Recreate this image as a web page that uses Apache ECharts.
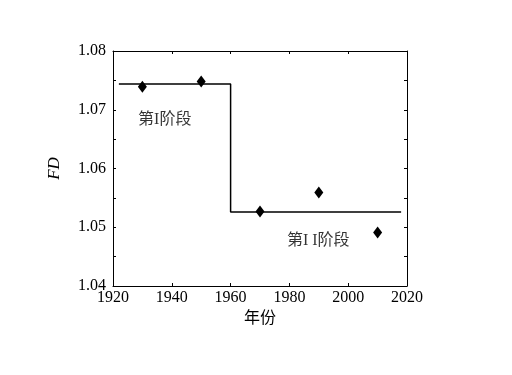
<!DOCTYPE html>
<html><head><meta charset="utf-8">
<script src="https://cdn.jsdelivr.net/npm/echarts@6/dist/echarts.min.js"></script>
<style>html,body{margin:0;padding:0;background:#fff}#c{width:512px;height:375px}</style>
</head><body><div id="c"></div>
<script>
var years = [1930, 1950, 1970, 1990, 2010];
var fdValues = [1.0739, 1.0748, 1.0527, 1.0559, 1.0491];
var stepX = [1922, 1960, 1960, 2018];
var stepY = [1.0744, 1.0744, 1.0526, 1.0526];
var stageLabels = [{text: '第I阶段', x: 1937.6, y: 1.0683}, {text: '第I I阶段', x: 1989.8, y: 1.0477}];

var FONT = '"Liberation Serif", "Noto Sans CJK SC", serif';
var chart = echarts.init(document.getElementById('c'));
var axBase = {
  axisLine: {show: true, lineStyle: {color: '#000', width: 1}},
  splitLine: {show: false}
};
chart.setOption({
  animation: false,
  grid: {left: 113, right: 105, top: 51, bottom: 89, show: false},
  xAxis: [
    Object.assign({}, axBase, {type: 'value', min: 1920, max: 2020, interval: 20,
      axisTick: {inside: true, length: 3, lineStyle: {color: '#000'}},
      axisLabel: {color: '#000', fontFamily: FONT, fontSize: 16, margin: 4,
        formatter: function (v) { return String(v); }},
      name: '年份', nameLocation: 'middle', nameGap: 20,
      nameTextStyle: {color: '#000', fontFamily: FONT, fontSize: 16}}),
    Object.assign({}, axBase, {type: 'value', position: 'top', min: 1920, max: 2020, interval: 20,
      axisTick: {inside: true, length: 3, lineStyle: {color: '#000'}},
      axisLabel: {show: false}})
  ],
  yAxis: [
    Object.assign({}, axBase, {type: 'value', min: 1.04, max: 1.08, interval: 0.01,
      axisTick: {inside: true, length: 3, lineStyle: {color: '#000'}},
      minorTick: {show: true, splitNumber: 2, length: 3, lineStyle: {color: '#000'}},
      axisLabel: {color: '#000', fontFamily: FONT, fontSize: 16, margin: 7,
        formatter: function (v) { return v.toFixed(2); }},
      name: 'FD', nameLocation: 'middle', nameGap: 50, nameRotate: 90,
      nameTextStyle: {color: '#000', fontFamily: FONT, fontSize: 17, fontStyle: 'italic'}}),
    Object.assign({}, axBase, {type: 'value', position: 'right', min: 1.04, max: 1.08, interval: 0.01,
      axisTick: {inside: true, length: 3, lineStyle: {color: '#000'}},
      minorTick: {show: true, splitNumber: 2, length: 3, lineStyle: {color: '#000'}},
      axisLabel: {show: false}})
  ],
  series: [
    {type: 'line', data: stepX.map(function (x, i) { return [x, stepY[i]]; }),
      showSymbol: false, symbol: 'none', lineStyle: {color: '#000', width: 1.5}, silent: true},
    {type: 'scatter', data: years.map(function (x, i) { return [x, fdValues[i]]; }),
      symbol: 'diamond', symbolSize: [9, 12], itemStyle: {color: '#000', opacity: 1}, z: 5},
    {type: 'scatter', data: stageLabels.map(function (d) { return [d.x, d.y, d.text]; }),
      symbolSize: 0, z: 6,
      label: {show: true, position: 'inside', formatter: function (p) { return p.data[2]; },
        color: '#000', fontFamily: FONT, fontSize: 16}}
  ]
});
</script></body></html>
